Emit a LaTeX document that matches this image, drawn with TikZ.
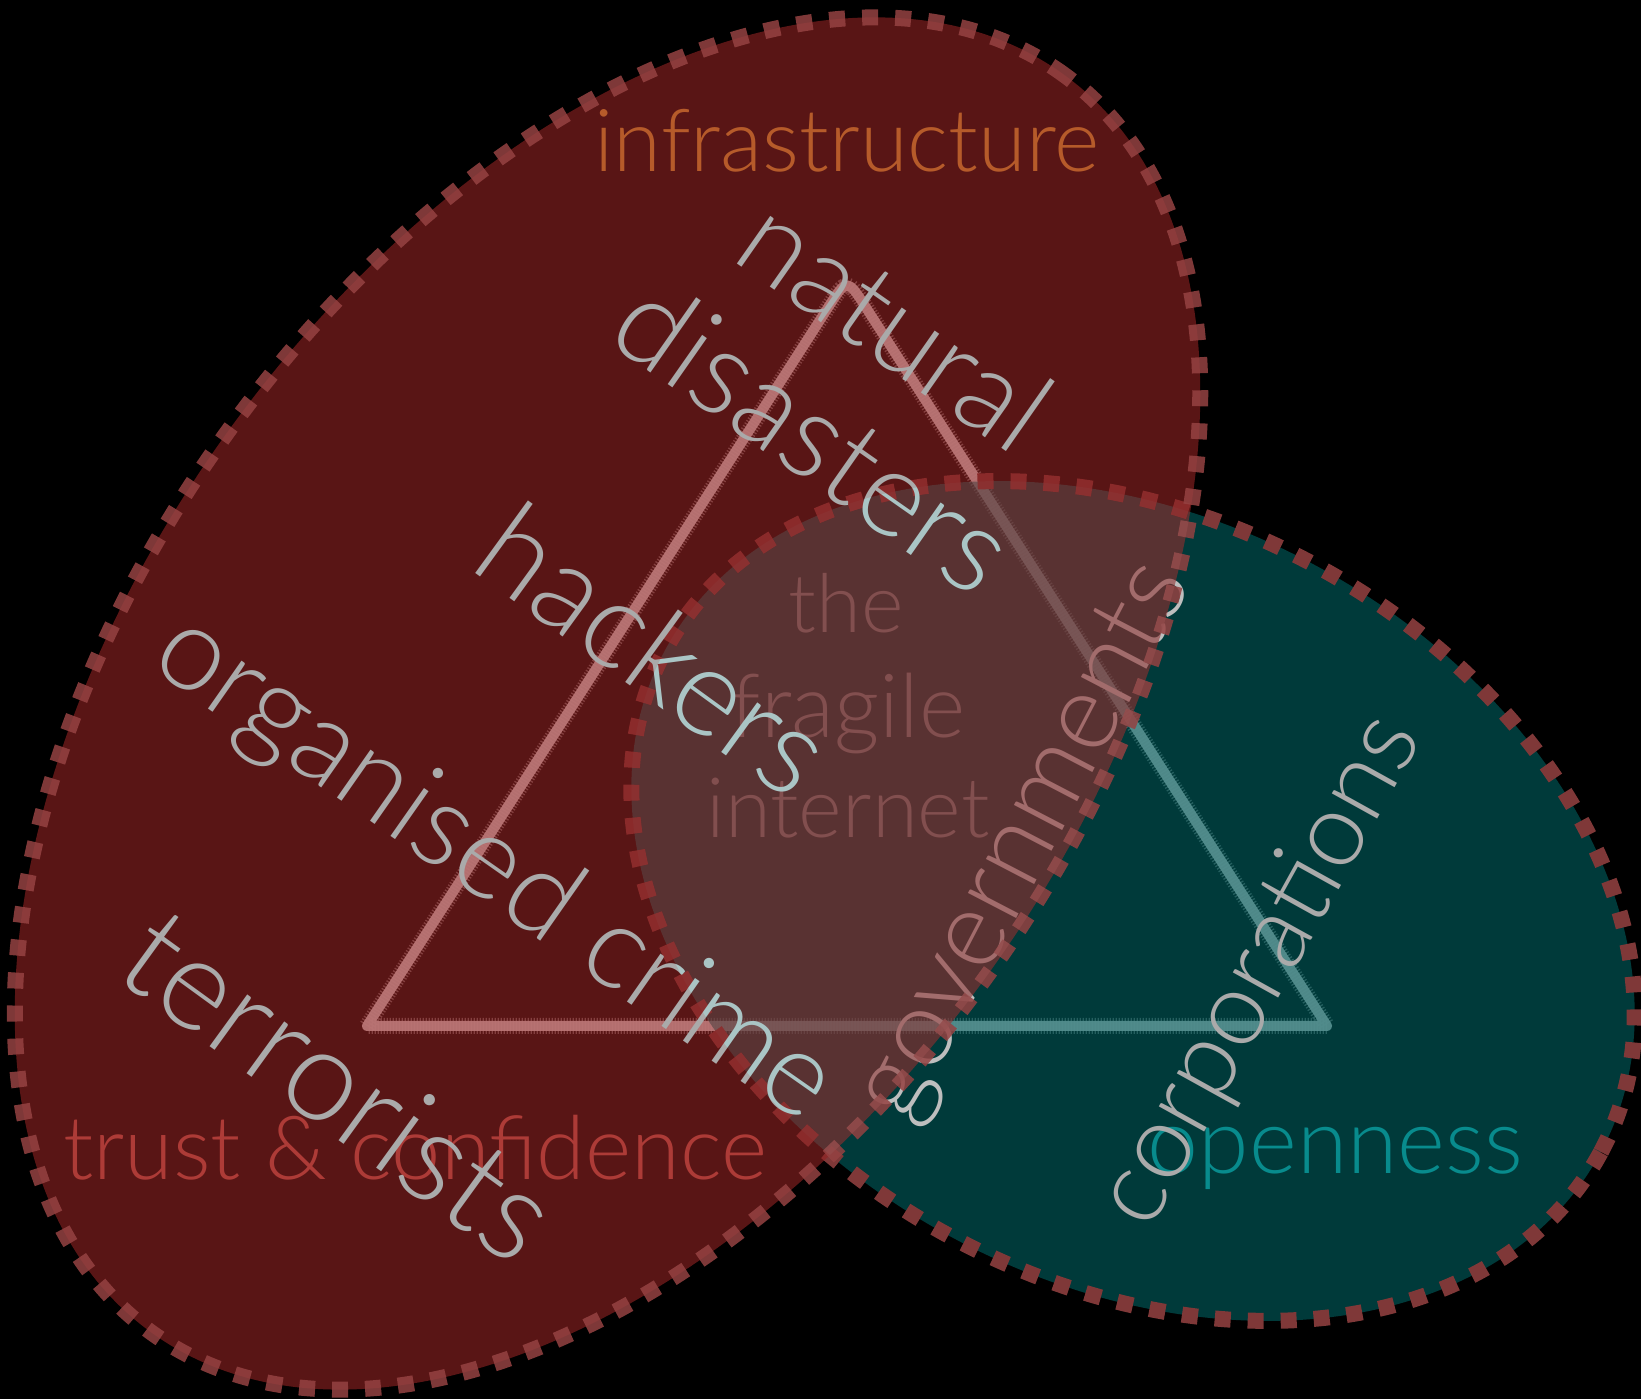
\documentclass[tikz,border=0pt]{standalone}
\usepackage{fontspec}
\IfFontExistsTF{Lato Light}{\setmainfont{Lato Light}}{\setmainfont{Lato}}
\usetikzlibrary{calc}

\definecolor{inkteal}{RGB}{0,87,87}
\definecolor{inkred}{RGB}{145,34,34}
\definecolor{rimred}{RGB}{127,56,56}
\definecolor{rimtop}{RGB}{149,66,66}
\definecolor{wordgray}{RGB}{170,170,170}
\definecolor{govgray}{RGB}{190,190,190}
\definecolor{infraorange}{RGB}{182,91,42}
\definecolor{trustred}{RGB}{173,59,55}
\definecolor{openteal}{RGB}{8,139,141}
\definecolor{coretext}{RGB}{130,68,68}
\definecolor{dodgetint}{RGB}{0,36,36}

% set a word so that it is exactly #1 points wide
\newcommand\fitword[2]{\resizebox{#1pt}{!}{#2}}

\begin{document}
\begin{tikzpicture}[x=1pt,y=1pt,
  rim/.style={draw=rimred, line width=16pt, dash pattern=on 16pt off 17pt},
  chalk/.style={draw=white, draw opacity=0.93, line width=10pt, line join=round, line cap=round},
  chalkdust/.style={draw=white, draw opacity=0.45, line width=16pt, line join=round, dash pattern=on 1.3pt off 1.7pt},
  word/.style={inner sep=0pt, outer sep=0pt, anchor=base},
  redzone/.style={shift={(607.5,695.5)}, rotate=54},
  tealzone/.style={shift={(1133,498)}, rotate=-28.2},
]
\fill[black] (0,0) rectangle (1641,1399);
\useasboundingbox (0,0) rectangle (1641,1399);

% chalk triangle (sits under both tinted regions)
\coordinate (apex) at (847,1121);
\coordinate (leftfoot) at (367,373);
\coordinate (rightfoot) at (1327,373);
\draw[chalkdust] (leftfoot) -- ($(apex)!35pt!(leftfoot)$) .. controls (apex) .. ($(apex)!35pt!(rightfoot)$) -- (rightfoot) -- cycle;
\draw[chalk] (leftfoot) -- ($(apex)!35pt!(leftfoot)$) .. controls (apex) .. ($(apex)!35pt!(rightfoot)$) -- (rightfoot) -- cycle;

% openness region
\fill[inkteal, fill opacity=0.67, tealzone] (0,0) ellipse [x radius=531pt, y radius=382pt];
\draw[rim, tealzone] (0,0) ellipse [x radius=531pt, y radius=382pt];

% this label lies beneath the red wash
\node[word, rotate=62.5, text=govgray] (governments) at (1050,544) {\fitword{612}{governments}};

% trust & confidence / infrastructure region
\fill[inkred, fill opacity=0.62, redzone] (0,0) ellipse [x radius=777pt, y radius=467pt];
\draw[rim, draw=rimtop, draw opacity=0.85, redzone] (0,0) ellipse [x radius=777pt, y radius=467pt];

% centre label
\node[word, text=coretext] (the) at (846,766) {\fitword{115}{the}};
\node[word, text=coretext] (fragile) at (848,661) {\fitword{234}{fragile}};
\node[word, text=coretext] (internet) at (848,561) {\fitword{283}{internet}};

% region titles
\node[word, text=infraorange] (infrastructure) at (847,1227) {\fitword{505}{infrastructure}};
\node[word, text=trustred] (trust) at (415,219) {\fitword{704}{trust \& confidence}};
\node[word, text=openteal] (openness) at (1335.5,225) {\fitword{375}{openness}};

% threats
\node[word, rotate=-35, text=wordgray] (natural) at (872,1041) {\fitword{347}{natural}};
\node[word, rotate=-35, text=wordgray] (disasters) at (790,929) {\fitword{452}{disasters}};
\node[word, rotate=-36, text=wordgray] (hackers) at (629,714) {\fitword{400}{hackers}};
\node[word, rotate=-35, text=wordgray] (crime) at (475,504) {\fitword{800}{organised crime}};
\node[word, rotate=-36, text=wordgray] (terrorists) at (313,277) {\fitword{498}{terrorists}};
\node[word, rotate=61, text=wordgray] (corporations) at (1286,414) {\fitword{565}{corporations}};

% the shared zone lifts everything in it towards teal
\begin{scope}[blend mode=color dodge]
  \clip[redzone] (0,0) ellipse [x radius=777pt, y radius=467pt];
  \fill[dodgetint, tealzone] (0,0) ellipse [x radius=531pt, y radius=382pt];
\end{scope}
\end{tikzpicture}
\end{document}
